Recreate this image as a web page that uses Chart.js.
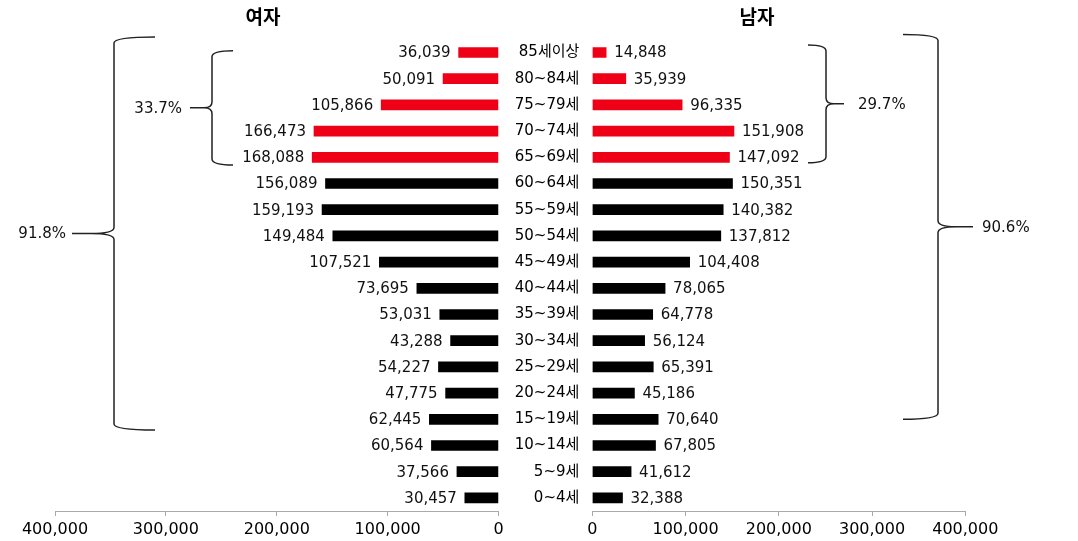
<!DOCTYPE html>
<html>
<head>
<meta charset="utf-8">
<script src="https://cdn.jsdelivr.net/npm/chart.js@4.4.0/dist/chart.umd.min.js"></script>
<style>
  body { margin: 0; background: #fff; }
  #wrap { position: relative; width: 1078px; height: 541px; overflow: hidden; }
  canvas { position: absolute; top: 0; }
  .ttl { position: absolute; top: 2px; transform: translateX(-50%);
         font: bold 19px "Noto Sans CJK KR", sans-serif; color: #000; }
</style>
</head>
<body>
<div id="wrap">
  <canvas id="left" width="540" height="541" style="left:0"></canvas>
  <canvas id="right" width="578" height="541" style="left:500px"></canvas>
  <div class="ttl" style="left:263px">여자</div>
  <div class="ttl" style="left:757px">남자</div>
</div>
<script>
const ageGroups = ["85세이상", "80~84세", "75~79세", "70~74세", "65~69세", "60~64세", "55~59세", "50~54세", "45~49세",
  "40~44세", "35~39세", "30~34세", "25~29세", "20~24세", "15~19세", "10~14세", "5~9세", "0~4세"];
const female = [36039, 50091, 105866, 166473, 168088, 156089, 159193, 149484, 107521,
  73695, 53031, 43288, 54227, 47775, 62445, 60564, 37566, 30457];
const male = [14848, 35939, 96335, 151908, 147092, 150351, 140382, 137812, 104408,
  78065, 64778, 56124, 65391, 45186, 70640, 67805, 41612, 32388];
const xTicks = [0, 100000, 200000, 300000, 400000];

// share brackets: label + range of age groups
const femaleShares = [
  { label: "91.8%", from: "85세이상", to: "15~19세" },
  { label: "33.7%", from: "85세이상", to: "65~69세" }
];
const maleShares = [
  { label: "29.7%", from: "85세이상", to: "65~69세" },
  { label: "90.6%", from: "85세이상", to: "15~19세" }
];

const FONT = '"DejaVu Sans", "Noto Sans CJK KR", sans-serif';
const RED = "#ee0016";
const fmt = v => v.toLocaleString("en-US");
const barColor = ageGroups.map(a => parseInt(a) >= 65 ? RED : "#000");

// values at bar ends
const valueLabels = {
  id: "valueLabels",
  afterDatasetsDraw(chart) {
    const ctx = chart.ctx;
    const side = chart.options.plugins.valueLabels.side;
    const meta = chart.getDatasetMeta(0);
    ctx.save();
    ctx.font = "15px " + FONT;
    ctx.fillStyle = "#111";
    ctx.textBaseline = "middle";
    ctx.textAlign = side < 0 ? "right" : "left";
    meta.data.forEach((bar, i) => {
      ctx.fillText(fmt(chart.data.datasets[0].data[i]), bar.x + side * 8, bar.y + 1);
    });
    ctx.restore();
  }
};

// curly brackets with shares
const braces = {
  id: "braces",
  afterDraw(chart, args, opts) {
    const ctx = chart.ctx;
    const y = chart.scales.y;
    const band = y.getPixelForValue(1) - y.getPixelForValue(0);
    ctx.save();
    ctx.strokeStyle = "#222";
    ctx.lineWidth = 1.5;
    opts.items.forEach((b, k) => {
      const st = opts.styles[k];
      const d = opts.dir;
      const x = st.x;
      const y1 = y.getPixelForValue(ageGroups.indexOf(b.from)) + st.top * band;
      const y2 = y.getPixelForValue(ageGroups.indexOf(b.to)) + st.bottom * band;
      const ym = (y1 + y2) / 2;
      const r = 6;
      ctx.beginPath();
      ctx.moveTo(x - d * st.arm, y1);
      ctx.quadraticCurveTo(x, y1, x, y1 + r);
      ctx.lineTo(x, ym - r);
      ctx.quadraticCurveTo(x, ym, x + d * st.depth, ym);
      ctx.lineTo(x + d * st.tip, ym);
      ctx.moveTo(x + d * st.depth, ym);
      ctx.quadraticCurveTo(x, ym, x, ym + r);
      ctx.lineTo(x, y2 - r);
      ctx.quadraticCurveTo(x, y2, x - d * st.arm, y2);
      ctx.stroke();
      ctx.font = "15px " + FONT;
      ctx.fillStyle = "#111";
      ctx.textBaseline = "middle";
      ctx.textAlign = d < 0 ? "right" : "left";
      ctx.fillText(b.label, x + d * (st.tip + st.gap), ym + 1);
    });
    ctx.restore();
  }
};

function xAxis(reverse) {
  return {
    type: "linear",
    min: 0,
    max: 400000,
    reverse: reverse,
    afterBuildTicks: s => { s.ticks = xTicks.map(v => ({ value: v })); },
    afterFit: s => { s.height = 30; },
    grid: { drawOnChartArea: false, drawTicks: true, tickLength: 5, color: "#aaa" },
    border: { display: true, color: "#aaa" },
    ticks: { color: "#000", padding: 4, font: { size: 16, family: FONT }, callback: v => fmt(v), maxRotation: 0 }
  };
}

new Chart(document.getElementById("left"), {
  type: "bar",
  data: {
    labels: ageGroups,
    datasets: [{ data: female, backgroundColor: barColor, barThickness: 10 }]
  },
  options: {
    indexAxis: "y",
    responsive: false,
    animation: false,
    devicePixelRatio: 1,
    layout: { padding: { left: 55, right: 41.4, top: 39.4, bottom: 0 } },
    scales: {
      x: xAxis(true),
      y: { display: false }
    },
    plugins: {
      legend: { display: false },
      tooltip: { enabled: false },
      valueLabels: { side: -1 },
      braces: {
        dir: -1,
        items: femaleShares,
        styles: [
          { x: 114, top: -0.59, bottom: 0.41, arm: 41, depth: 23, tip: 42, gap: 6 },
          { x: 212, top: -0.07, bottom: 0.29, arm: 21, depth: 8, tip: 22, gap: 8 }
        ]
      }
    }
  },
  plugins: [valueLabels, braces]
});

new Chart(document.getElementById("right"), {
  type: "bar",
  data: {
    labels: ageGroups,
    datasets: [{ data: male, backgroundColor: barColor, barThickness: 10 }]
  },
  options: {
    indexAxis: "y",
    responsive: false,
    animation: false,
    devicePixelRatio: 1,
    layout: { padding: { left: 0, right: 112.7, top: 39.4, bottom: 0 } },
    scales: {
      x: xAxis(false),
      y: {
        afterFit: s => { s.width = 92.3; },
        grid: { display: false, drawTicks: false },
        border: { display: false },
        ticks: { color: "#000", padding: 13, font: { size: 15, family: FONT } }
      }
    },
    plugins: {
      legend: { display: false },
      tooltip: { enabled: false },
      valueLabels: { side: 1 },
      braces: {
        dir: 1,
        items: maleShares,
        styles: [
          { x: 326, top: -0.29, bottom: 0.21, arm: 18, depth: 8, tip: 18, gap: 14 },
          { x: 438, top: -0.69, bottom: 0, arm: 35, depth: 18, tip: 35, gap: 9 }
        ]
      }
    }
  },
  plugins: [valueLabels, braces]
});
</script>
</body>
</html>
